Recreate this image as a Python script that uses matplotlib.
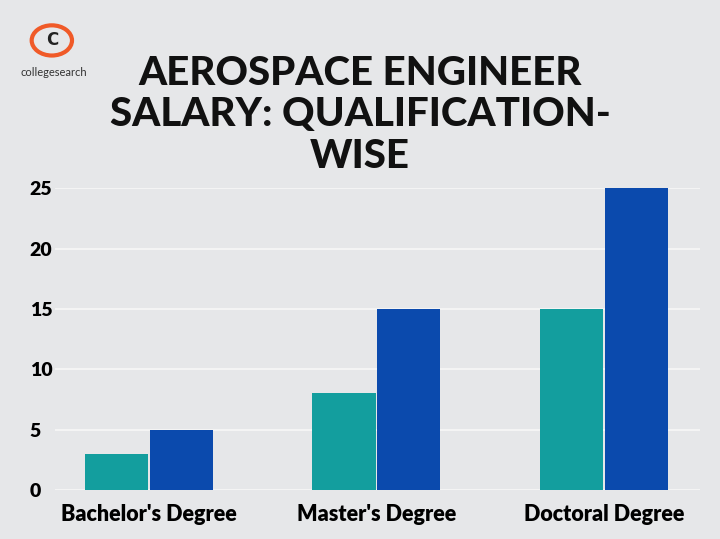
import matplotlib.pyplot as plt
import numpy as np
from matplotlib.patches import Circle

categories = ["Bachelor's Degree", "Master's Degree", "Doctoral Degree"]
series_teal = [3, 8, 15]
series_blue = [5, 15, 25]
yticks = [0, 5, 10, 15, 20, 25]

fig = plt.figure(figsize=(7.2, 5.39), dpi=100)
fig.patch.set_facecolor('#e6e7e9')
ax = fig.add_axes([0.076, 0.0909, 0.896, 0.560])
ax.set_facecolor('none')
x = np.arange(len(categories))
w = 0.277
ax.bar(x - w/2 - 0.004, series_teal, w, color='#139e9e', zorder=3)
ax.bar(x + w/2 + 0.004, series_blue, w, color='#0b4aad', zorder=3)
ax.set_xlim(-0.413, 2.42)
ax.set_ylim(0, 25)
ax.set_yticks(yticks)
ax.set_yticklabels([str(v) for v in yticks], fontsize=14, fontweight='heavy', family='Lato')
ax.set_xticks(x)
ax.set_xticklabels(categories, fontsize=15.5, fontweight='heavy', family='Lato')
ax.tick_params(length=0, pad=10)
ax.tick_params(axis='y', pad=18)
for lbl in ax.get_yticklabels():
    lbl.set_horizontalalignment('left')
ax.grid(axis='y', color='#f7f7f7', lw=1.2, zorder=0)
for s in ax.spines.values():
    s.set_visible(False)

fig.text(0.5, 0.787, "AEROSPACE ENGINEER\nSALARY: QUALIFICATION-\nWISE", ha='center', va='center',
         fontsize=29, fontweight='black', family='Lato', linespacing=1.15, color='#111111')

# logo
c = Circle((0.072, 0.925), 0.028, transform=fig.transFigure, facecolor='none', edgecolor='#f05a28', lw=3)
fig.add_artist(c)
fig.text(0.072, 0.925, "C", ha='center', va='center', fontsize=12, fontweight='bold', color='#222')
fig.text(0.075, 0.865, "collegesearch", ha='center', va='center', fontsize=8, color='#333', family='Lato')

fig.savefig('out.png', dpi=100, facecolor=fig.get_facecolor())
